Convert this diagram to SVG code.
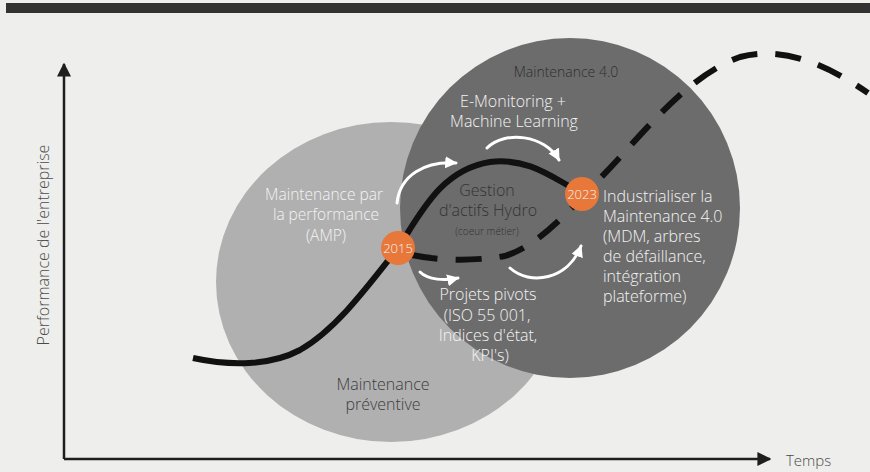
<svg xmlns="http://www.w3.org/2000/svg" width="870" height="472" viewBox="0 0 870 472">
<defs>
<style>
.t{font-family:"Open Sans","Liberation Sans",sans-serif;font-weight:300;}
.w{fill:#f4f4f4;}
.d{fill:#3c3c3c;}
.ax{stroke:#1e1e1e;stroke-width:2.5;fill:none;}
.arr{stroke:#ffffff;stroke-width:3;fill:none;stroke-linecap:round;}
.yr{fill:#e8773a;}
</style>
<marker id="ah" viewBox="0 0 10 10" refX="9" refY="5" markerWidth="12" markerHeight="12" markerUnits="userSpaceOnUse" orient="auto">
<path d="M0,0 L10,5 L0,10 z" fill="#ffffff"/>
</marker>
<marker id="axh" viewBox="0 0 10 10" refX="9" refY="5" markerWidth="14" markerHeight="14" markerUnits="userSpaceOnUse" orient="auto">
<path d="M0,0 L10,5 L0,10 z" fill="#1e1e1e"/>
</marker>
</defs>
<rect width="870" height="472" fill="#eeeeec"/>
<rect x="6" y="3" width="864" height="10" fill="#323232"/>

<g id="preventive">
<ellipse cx="391" cy="282" rx="175" ry="160" fill="#b0b0b0"/>
<text class="t d" font-size="16" text-anchor="middle" x="383" y="390">Maintenance</text>
<text class="t d" font-size="16" text-anchor="middle" x="383" y="410">préventive</text>
</g>

<g id="m40">
<circle cx="570" cy="208" r="170" fill="#6c6c6c"/>
<text class="t" fill="#2e2e2e" font-size="14" text-anchor="middle" x="566" y="77">Maintenance 4.0</text>
</g>

<g id="amp">
<text class="t w" font-size="15.5" text-anchor="middle" x="324" y="200">Maintenance par</text>
<text class="t w" font-size="15.5" text-anchor="middle" x="326" y="220">la performance</text>
<text class="t w" font-size="15.5" text-anchor="middle" x="326" y="241">(AMP)</text>
</g>

<g id="emon">
<text class="t w" font-size="16" text-anchor="middle" x="513" y="107">E-Monitoring +</text>
<text class="t w" font-size="16" text-anchor="middle" x="514" y="127">Machine Learning</text>
</g>

<g id="gestion">
<text class="t" fill="#333" font-size="16" text-anchor="middle" x="487" y="196">Gestion</text>
<text class="t" fill="#333" font-size="16" text-anchor="middle" x="488" y="216">d'actifs Hydro</text>
<text class="t" fill="#333" font-size="10" text-anchor="middle" x="487" y="235">(coeur métier)</text>
</g>

<g id="projets">
<text class="t w" font-size="16" text-anchor="middle" x="488" y="300">Projets pivots</text>
<text class="t w" font-size="16" text-anchor="middle" x="487" y="321">(ISO 55 001,</text>
<text class="t w" font-size="16" text-anchor="middle" x="488" y="341">Indices d'état,</text>
<text class="t w" font-size="16" text-anchor="middle" x="490" y="361">KPI's)</text>
</g>

<g id="indus">
<text class="t w" font-size="16" x="603" y="202">Industrialiser la</text>
<text class="t w" font-size="16" x="603" y="222">Maintenance 4.0</text>
<text class="t w" font-size="16" x="603" y="242">(MDM, arbres</text>
<text class="t w" font-size="16" x="603" y="262">de défaillance,</text>
<text class="t w" font-size="16" x="603" y="282">intégration</text>
<text class="t w" font-size="16" x="603" y="302">plateforme)</text>
</g>

<g id="connectors">
<path d="M193,358 C230,366 270,366 300,350 C335,330 365,290 398,248 C420,215 440,170 490,162 C530,157 555,180 582,193" stroke="#111" stroke-width="6" fill="none" stroke-linecap="butt"/>
<path d="M412,255 C435,260 470,262 505,256 C540,245 570,210 610,168 C650,125 690,75 740,57 C780,47 820,60 868,93" stroke="#111" stroke-width="6" fill="none" stroke-dasharray="26 18"/>
<path class="arr" d="M397,203 C400,175 425,161 456,163" marker-end="url(#ah)"/>
<path class="arr" d="M487,148 C505,130 545,135 559,160" marker-end="url(#ah)"/>
<path class="arr" d="M420,272 C428,280 445,281 458,278" marker-end="url(#ah)"/>
<path class="arr" d="M510,268 C530,286 568,280 581,246" marker-end="url(#ah)"/>
<path class="ax" d="M64,459 L64,64" marker-end="url(#axh)"/>
<path class="ax" d="M64,459 L770,459" marker-end="url(#axh)"/>
</g>

<g id="y2015">
<circle class="yr" cx="398" cy="248" r="17"/>
<text class="t w" font-size="13" text-anchor="middle" x="398" y="253">2015</text>
</g>
<g id="y2023">
<circle class="yr" cx="582" cy="194" r="17"/>
<text class="t w" font-size="13" text-anchor="middle" x="582" y="199">2023</text>
</g>

<g id="axes-labels">
<text class="t" fill="#4a4a4a" font-size="16" text-anchor="middle" transform="translate(49,245) rotate(-90)">Performance de l'entreprise</text>
<text class="t" fill="#4a4a4a" font-size="15" x="786" y="466">Temps</text>
</g>
</svg>
